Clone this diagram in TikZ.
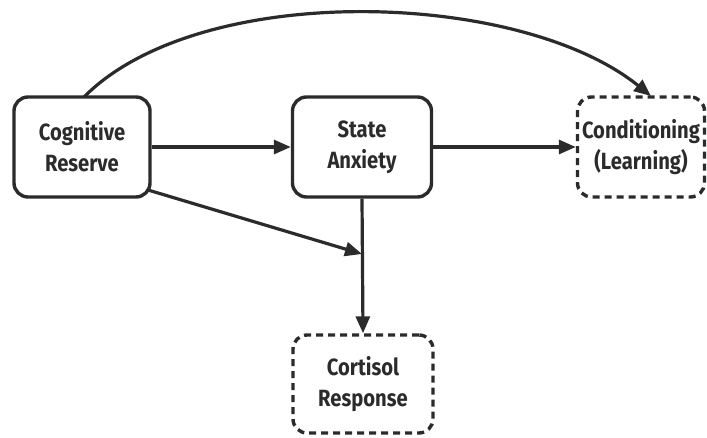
\documentclass[tikz,border=0pt]{standalone}
\usepackage{fontspec}
\setmainfont{Fira Sans}[FakeStretch=0.86]
\usetikzlibrary{arrows.meta}
\definecolor{ink}{HTML}{2B2B2B}
\tikzset{
  solidbox/.style={draw=ink, line width=3.4pt, rounded corners=14pt, minimum width=136pt, minimum height=100pt, align=center, font=\fontsize{23.5}{31}\selectfont\bfseries, text=ink},
  dashbox/.style={solidbox, dash pattern=on 7pt off 5pt},
  arr/.style={draw=ink, line width=3.2pt, -{Triangle[length=17pt,width=14pt]}},
}
\begin{document}
\begin{tikzpicture}[x=1pt,y=-1pt]
\useasboundingbox (0,0) rectangle (707,437);
\node[solidbox] (cr) at (82,147) {Cognitive\\Reserve};
\node[solidbox, minimum width=139pt] (sa) at (362,147) {State\\Anxiety};
\node[dashbox, minimum width=127pt] (cl) at (641,147) {Conditioning\\(Learning)};
\node[dashbox, minimum width=140pt, minimum height=98pt] (co) at (363,384) {Cortisol\\Response};
\coordinate (mid) at (362,254);
\coordinate (crtop) at (84,97);
\coordinate (cltop) at (651,96);
\coordinate (crcorner) at (148,190);
\draw[arr] (cr) -- (sa);
\draw[arr] (sa) -- (cl);
\draw[arr] (sa.south) -- (co.north);
\draw[arr] (crcorner) -- (mid);
\draw[arr] (crtop) .. controls (200,-20) and (520,-10) .. (cltop);
\end{tikzpicture}
\end{document}
